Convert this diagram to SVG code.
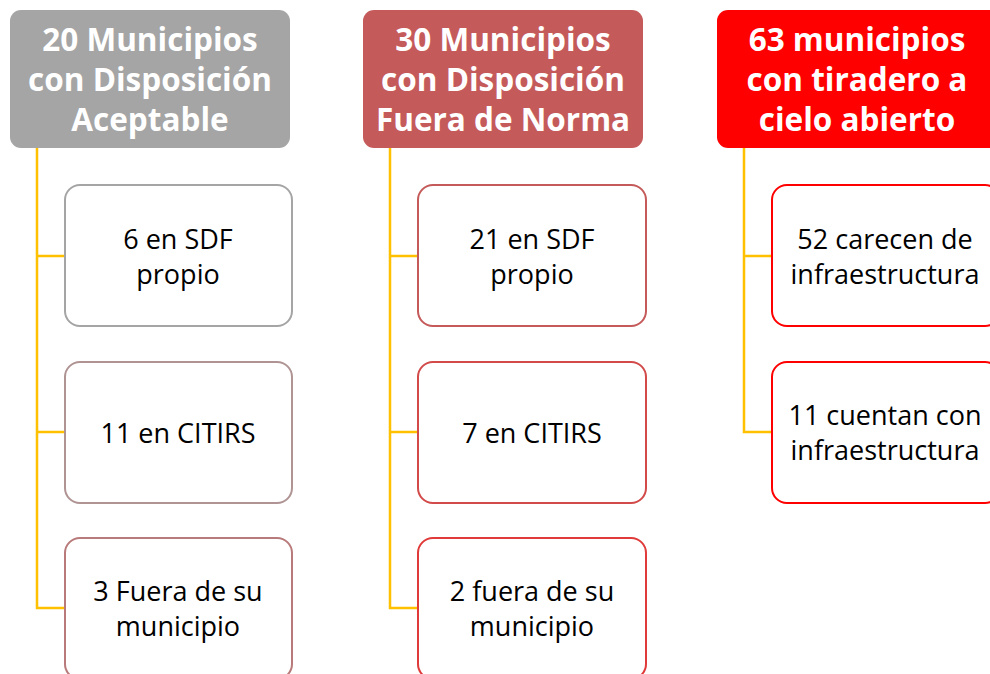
<svg xmlns="http://www.w3.org/2000/svg" width="990" height="674" viewBox="0 0 990 674">
<style>
.hdr{stroke:none}
.hdr text{font-family:"Open Sans","Liberation Sans",sans-serif;font-weight:bold;font-size:31.5px;fill:#ffffff;text-anchor:middle}
.box rect{fill:#ffffff;stroke-width:2}
.box text{font-family:"Open Sans","Liberation Sans",sans-serif;font-size:27px;fill:#000000;text-anchor:middle}
.conn{fill:none;stroke:#ffc000;stroke-width:2.5}
</style>
<rect width="990" height="674" fill="#ffffff"/>
<g id="connectors">
<path class="conn" d="M37 148 V608 H65 M37 256 H65 M37 432 H65"/>
<path class="conn" d="M390 148 V608 H418 M390 256 H418 M390 432 H418"/>
<path class="conn" d="M744 148 V432 H772 M744 256 H772"/>
</g>
<g id="h1" class="hdr">
<rect x="10" y="10" width="280" height="138" rx="11" fill="#a5a5a5"/>
<text x="150" y="51">20 Municipios</text>
<text x="150" y="91">con Disposición</text>
<text x="150" y="131">Aceptable</text>
</g>
<g id="h2" class="hdr">
<rect x="363" y="10" width="280" height="138" rx="11" fill="#c55a5a"/>
<text x="503" y="51">30 Municipios</text>
<text x="503" y="91">con Disposición</text>
<text x="503" y="131">Fuera de Norma</text>
</g>
<g id="h3" class="hdr">
<rect x="717" y="10" width="290" height="138" rx="11" fill="#ff0000"/>
<text x="857" y="51">63 municipios</text>
<text x="857" y="91">con tiradero a</text>
<text x="857" y="131">cielo abierto</text>
</g>
<g id="c1a" class="box">
<rect x="65" y="185" width="227" height="141" rx="15" stroke="#a5a5a5"/>
<text x="178" y="249">6 en SDF</text>
<text x="178" y="284">propio</text>
</g>
<g id="c1b" class="box">
<rect x="65" y="362" width="227" height="141" rx="15" stroke="#b09494"/>
<text x="178" y="443">11 en CITIRS</text>
</g>
<g id="c1c" class="box">
<rect x="65" y="538" width="227" height="141" rx="15" stroke="#b87a7a"/>
<text x="178" y="601">3 Fuera de su</text>
<text x="178" y="636">municipio</text>
</g>
<g id="c2a" class="box">
<rect x="418" y="185" width="228" height="141" rx="15" stroke="#c55a5a"/>
<text x="532" y="249">21 en SDF</text>
<text x="532" y="284">propio</text>
</g>
<g id="c2b" class="box">
<rect x="418" y="362" width="228" height="141" rx="15" stroke="#d24a4a"/>
<text x="532" y="443">7 en CITIRS</text>
</g>
<g id="c2c" class="box">
<rect x="418" y="538" width="228" height="141" rx="15" stroke="#e03a3a"/>
<text x="532" y="601">2 fuera de su</text>
<text x="532" y="636">municipio</text>
</g>
<g id="c3a" class="box">
<rect x="772" y="185" width="228" height="141" rx="15" stroke="#ff0000"/>
<text x="885" y="249">52 carecen de</text>
<text x="885" y="284">infraestructura</text>
</g>
<g id="c3b" class="box">
<rect x="772" y="362" width="228" height="141" rx="15" stroke="#ff0000"/>
<text x="885" y="425">11 cuentan con</text>
<text x="885" y="460">infraestructura</text>
</g>
</svg>
